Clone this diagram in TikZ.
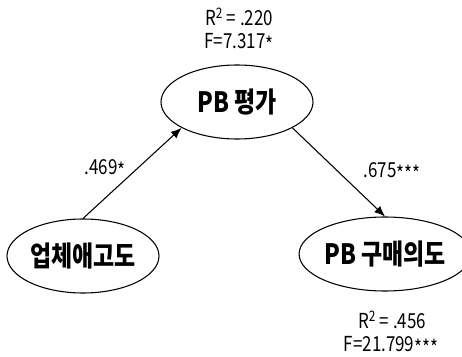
\documentclass[tikz,border=0pt]{standalone}
\usepackage{fontspec}
\setmainfont{Noto Sans CJK KR}[FakeStretch=0.82]
\usetikzlibrary{shapes.geometric,arrows.meta}
\newcommand{\sig}[1]{\raisebox{-0.3ex}{#1}}
\begin{document}
\begin{tikzpicture}[x=0.75pt,y=-0.75pt,
  latent/.style={draw, ellipse, line width=0.8pt, minimum width=114pt, minimum height=55.5pt, inner sep=0pt, font=\fontsize{21pt}{23pt}\selectfont\bfseries},
  stat/.style={inner sep=0pt, font=\fontsize{15.5pt}{17pt}\selectfont},
  path/.style={-{Latex[length=8pt,width=6.5pt]}, line width=0.8pt}]
\useasboundingbox (0,0) rectangle (462,357);
\node[latent] (eval) at (237,102) {PB 평가};
\node[latent] (loyal) at (83,256) {업체애고도};
\node[latent] (intent) at (385,254) {PB 구매의도};
\node[stat] (evalr) at (239,17) {R\textsuperscript{2} = .220};
\node[stat] (evalf) at (239,43) {F=7.317\sig{*}};
\node[stat] (intentr) at (392,320) {R\textsuperscript{2} = .456};
\node[stat] (intentf) at (391,346) {F=21.799\sig{***}};
\draw[path] (loyal.north) -- (eval.205);
\draw[path] (eval.335) -- (intent.north);
\node[stat] (coefa) at (105,169) {.469\sig{*}};
\node[stat] (coefb) at (392,172) {.675\sig{***}};
\end{tikzpicture}
\end{document}
